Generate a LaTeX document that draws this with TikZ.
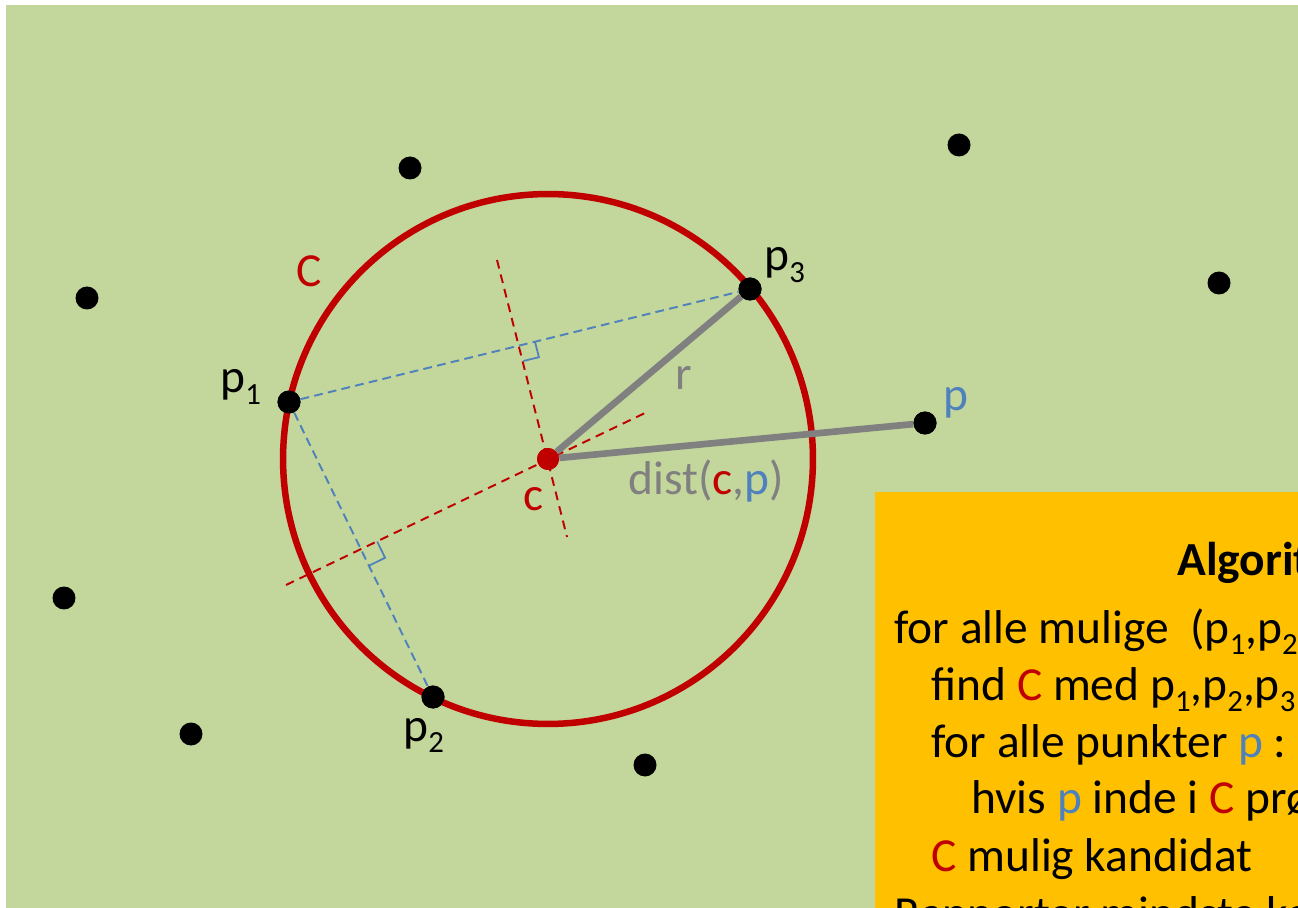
\documentclass[tikz,border=0pt]{standalone}
\usepackage{tikz}
\usetikzlibrary{calc}
\usepackage{fontspec}
\setmainfont{Carlito}

\definecolor{bggreen}{HTML}{C3D69B}
\definecolor{boxyellow}{HTML}{FFC000}
\definecolor{cred}{HTML}{C00000}
\definecolor{cblue}{HTML}{4F81BD}
\definecolor{cgray}{HTML}{808080}

\newcommand{\lowsub}[1]{\raisebox{-0.24em}{\fontsize{17.5}{20}\selectfont #1}}

\begin{document}
\begin{tikzpicture}[x=0.02cm, y=-0.02cm,
		every node/.style={font=\fontsize{27}{32}\selectfont, inner sep=0pt},
		punkt/.style={circle, fill=black, minimum size=0.46cm},
		centre/.style={circle, fill=cred, minimum size=0.44cm},
		txt/.style={anchor=base west},
		chord/.style={draw=cblue, line width=1.1pt, dash pattern=on 5pt off 3pt},
		bisect/.style={draw=cred, line width=1.1pt, dash pattern=on 5pt off 3.5pt},
		rightangle/.style={draw=cblue, line width=1pt},
		radiusline/.style={draw=cgray, line width=3.8pt}]

			\path[use as bounding box] (0,0) rectangle (1298,908);
			\clip (0,0) rectangle (1298,908);
			\fill[white] (0,0) rectangle (1298,908);
			\fill[bggreen] (6,5) rectangle (1298,908);
			\fill[boxyellow] (875,492) rectangle (1298,908);

			% points on the circle and the centre
			\node[centre] (c) at (548,459) {};
			\node[punkt] (p1) at (289,402) {};
			\node[punkt] (p2) at (433,697) {};
			\node[punkt] (p3) at (750,289) {};
			\node[punkt] (p) at (925,423) {};

			% other points
			\node[punkt] (q1) at (410,168) {};
			\node[punkt] (q2) at (959,145) {};
			\node[punkt] (q3) at (87,298) {};
			\node[punkt] (q4) at (1219,283) {};
			\node[punkt] (q5) at (64,598) {};
			\node[punkt] (q6) at (191,734) {};
			\node[punkt] (q7) at (645,765) {};

			\coordinate (m1) at (519.5,345.5);
			\coordinate (m2) at (361,549.5);
			\coordinate (b1a) at (497,260);
			\coordinate (b1b) at (567,537);
			\coordinate (b2a) at (286,585);
			\coordinate (b2b) at (645,413);

			\draw[chord] (p1) -- (p3);
			\draw[chord] (p1) -- (p2);
			\draw[bisect] (b1a) -- (b1b);
			\draw[bisect] (b2a) -- (b2b);
			\draw[rightangle] ($(m1)+(15.5,-3.8)$) -- ++(3.9,15.5) -- ++(-15.5,3.8);
			\draw[rightangle] ($(m2)+(16.2,-7.9)$) -- ++(7.9,16.2) -- ++(-16.2,7.9);

			\draw[cred, line width=3.7pt] (c.center) circle[radius=5.3cm];

			\draw[radiusline] (c) -- (p3);
			\draw[radiusline] (c) -- (p);

			% redraw dots on top
			\node[centre] at (c) {};
			\node[punkt] at (p1) {};
			\node[punkt] at (p2) {};
			\node[punkt] at (p3) {};
			\node[punkt] at (p) {};

			\node[txt, text=cred] (lC) at (296,287) {C};
			\node[txt] (lp1) at (220,393) {p\lowsub{1}};
			\node[txt] (lp2) at (403,741) {p\lowsub{2}};
			\node[txt] (lp3) at (764,271) {p\lowsub{3}};
			\node[txt, text=cblue] (lp) at (943,411) {p};
			\node[txt, text=cgray] (lr) at (675,390) {r};
			\node[txt, text=cred] (lc) at (523,511) {c};
			\node[txt, text=cgray] (ldist) at (628,495) {dist(\textcolor{cred}{c},\textcolor{cblue}{p})};

			% algorithm box
			\node[txt, font=\fontsize{27}{32}\selectfont\bfseries] (title) at (1177,575) {Algoritme};
			\node[txt] (line1) at (894,643) {for alle mulige\ \ (p\lowsub{1},p\lowsub{2},p\lowsub{3}) :};
			\node[txt] (line2) at (931,700) {find \textcolor{cred}{C} med p\lowsub{1},p\lowsub{2},p\lowsub{3} på randen};
			\node[txt] (line3) at (931,757) {for alle punkter \textcolor{cblue}{p} :};
			\node[txt] (line4) at (971,813) {hvis \textcolor{cblue}{p} inde i \textcolor{cred}{C} prøv næste};
			\node[txt] (line5) at (931,871) {\textcolor{cred}{C} mulig kandidat};
			\node[txt] (line6) at (894,929) {Rapporter mindste kandidat};

		\end{tikzpicture}
\end{document}
